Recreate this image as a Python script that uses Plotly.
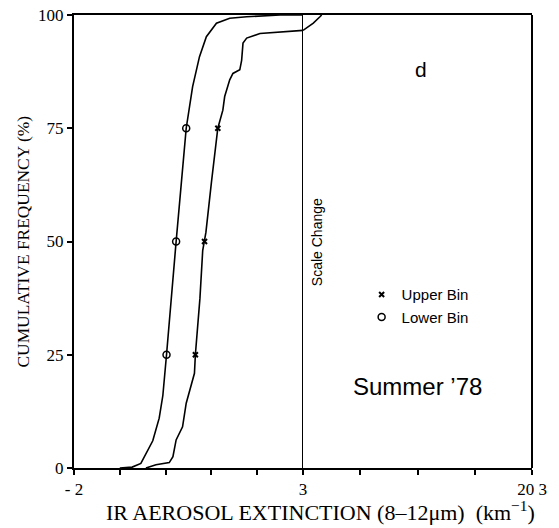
import plotly.graph_objects as go

# ---- data ----
lower_x = [-1.0, -0.73, -0.54, -0.43, -0.28, -0.14, -0.06, 0.02, 0.12, 0.23, 0.34, 0.45,
           0.59, 0.74, 0.89, 1.11, 1.40, 1.77, 2.5, 3.0]
lower_y = [0, 0.2, 1, 3, 6, 11, 16, 25, 37.5, 50, 62.5, 75,
           84.2, 90.8, 95.2, 98.2, 99.3, 99.6, 100, 100]

upper_x_left = [-0.43, -0.21, 0.08, 0.16, 0.23, 0.37, 0.45, 0.56, 0.63, 0.65, 0.75, 0.81, 0.85,
                0.88, 1.00, 1.14, 1.25, 1.29, 1.40, 1.47, 1.62, 1.66, 1.69, 1.77, 2.06, 2.5, 3.0]
upper_y_left = [0, 0.7, 1.2, 2.5, 6.2, 9.1, 14.3, 18, 20.9, 25, 37.5, 48, 50,
                52, 63, 75, 79, 82, 85.7, 87.1, 87.9, 90, 93.8, 94.9, 95.9, 96.2, 96.6]
upper_x_right = [3.0, 3.78, 4.28, 4.41]
upper_y_right = [96.6, 98.2, 99.6, 100]

pct_levels = [25, 50, 75]
lower_marks = [0.02, 0.23, 0.45]
upper_marks = [0.65, 0.85, 1.14]

left_ticks = [-2, 3]
left_ticktext = ["- 2", "3"]
left_minor = [-1, 0, 1, 2]
right_ticks = [20.3]
right_ticktext = ["20 3"]
right_minor = [7.325, 11.65, 15.975]
y_ticks = [0, 25, 50, 75, 100]

serif = "Liberation Serif"
sans = "Liberation Sans"
line_style = dict(color="black", width=1.6)

fig = go.Figure()
fig.add_trace(go.Scatter(x=lower_x, y=lower_y, mode="lines", line=line_style,
                         showlegend=False, xaxis="x", yaxis="y", cliponaxis=False))
fig.add_trace(go.Scatter(x=upper_x_left, y=upper_y_left, mode="lines", line=line_style,
                         showlegend=False, xaxis="x", yaxis="y", cliponaxis=False))
fig.add_trace(go.Scatter(x=upper_x_right, y=upper_y_right, mode="lines", line=line_style,
                         showlegend=False, xaxis="x2", yaxis="y", cliponaxis=False))
fig.add_trace(go.Scatter(x=upper_marks, y=pct_levels, mode="markers", name="Upper Bin",
                         marker=dict(symbol="x-thin", size=5, line=dict(color="black", width=2)),
                         xaxis="x", yaxis="y"))
fig.add_trace(go.Scatter(x=lower_marks, y=pct_levels, mode="markers", name="Lower Bin",
                         marker=dict(symbol="circle-open", size=7, color="black",
                                     line=dict(color="black", width=1.5)),
                         xaxis="x", yaxis="y"))

axis_common = dict(ticks="outside", ticklen=5, tickwidth=1.5, tickcolor="black",
                   showgrid=False, zeroline=False, showline=True, linecolor="black",
                   linewidth=2, automargin=False, ticklabeloverflow="allow",
                   tickfont=dict(family=serif, size=17, color="black"))
minor_style = dict(ticks="outside", ticklen=5, tickwidth=1.5, tickcolor="black",
                   showgrid=False)

fig.update_layout(
    width=559, height=528,
    margin=dict(l=74, r=27, t=15, b=60, autoexpand=False),
    paper_bgcolor="white", plot_bgcolor="white",
    xaxis=dict(domain=[0, 0.5], range=[-2, 3], tickvals=left_ticks, ticktext=left_ticktext,
               minor=dict(tickvals=left_minor, **minor_style), mirror=True, **axis_common),
    xaxis2=dict(domain=[0.5, 1], range=[3, 20.3], tickvals=right_ticks,
                ticktext=right_ticktext, minor=dict(tickvals=right_minor, **minor_style),
                anchor="y", mirror=True, **axis_common),
    yaxis=dict(range=[0, 100], tickvals=y_ticks, **axis_common),
    legend=dict(x=0.628, y=0.419, xanchor="left", yanchor="top", bgcolor="rgba(0,0,0,0)",
                font=dict(family=sans, size=15, color="black"), itemwidth=30,
                tracegroupgap=0),
    showlegend=True,
)

# right frame edge and scale-change line
fig.add_shape(type="line", xref="x2 domain", yref="y domain", x0=1, x1=1, y0=0, y1=1,
              line=dict(color="black", width=2))
fig.add_shape(type="line", xref="x", yref="y domain", x0=3, x1=3, y0=0, y1=1,
              line=dict(color="black", width=2))

fig.add_annotation(text="CUMULATIVE FREQUENCY (%)", xref="paper", yref="paper",
                   x=0, xshift=-52, y=0.5, textangle=-90, showarrow=False,
                   xanchor="center", yanchor="middle",
                   font=dict(family=serif, size=17.4, color="black"))
fig.add_annotation(text="IR AEROSOL EXTINCTION (8\u201312\u03bcm)\u00a0\u00a0(km<sup>\u22121</sup>)",
                   xref="paper", yref="paper", x=0.539, y=0, yshift=-43, showarrow=False,
                   xanchor="center", yanchor="middle",
                   font=dict(family=serif, size=22, color="black"))
fig.add_annotation(text="Scale Change", xref="paper", yref="paper", x=0.531, y=0.499,
                   xanchor="center", yanchor="middle", textangle=-90, showarrow=False,
                   font=dict(family=sans, size=14, color="black"))
fig.add_annotation(text="d", xref="paper", yref="paper", x=0.758, y=0.879, showarrow=False,
                   xanchor="center", yanchor="middle",
                   font=dict(family=sans, size=21, color="black"))
fig.add_annotation(text="Summer \u201978", xref="paper", yref="paper", x=0.749, y=0.181,
                   xanchor="center", yanchor="middle", showarrow=False,
                   font=dict(family=sans, size=24, color="black"))

# remove the page's default body margin so the figure fills the window exactly
fig.write_html("out.html", config={"displayModeBar": False},
               post_script="document.body.style.margin='0px';")
